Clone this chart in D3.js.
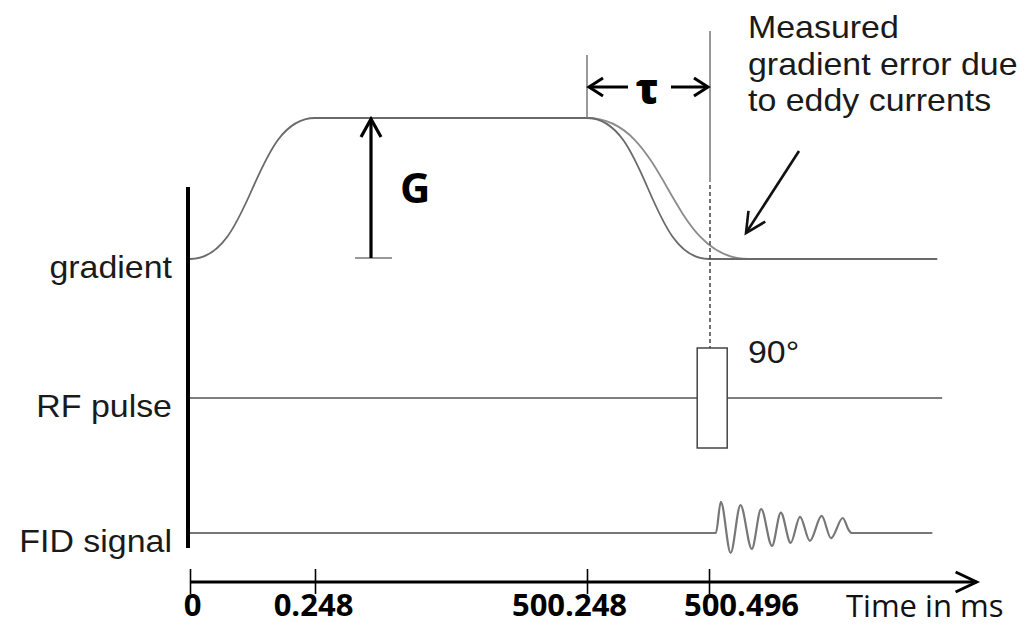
<!DOCTYPE html>
<html>
<head>
<meta charset="utf-8">
<script src="https://cdn.jsdelivr.net/npm/d3@7"></script>
<style>
  body { margin: 0; background: #fff; }
  svg { display: block; }
</style>
</head>
<body>
<div id="vis"></div>
<script>
// time axis (ms) - the axis is broken, so ticks are not evenly spaced
const timeTicks = [0, 0.248, 500.248, 500.496];
const tickLabels = ["0", "0.248", "500.248", "500.496"];
const rowLabels = ["gradient", "RF pulse", "FID signal"];

// ideal gradient waveform (G = 1)
const gradTime = [0, 0.248, 500.248, 500.496, 500.96];
const gradValue = [0, 1, 1, 0, 0];

// measured gradient, with eddy currents, on the ramp down
const eddyTime = [500.248, 500.576];
const eddyValue = [1, 0];

// 90 degree RF pulse
const rfTime = [500.472, 500.533];
const rfEnd = 500.97;

// FID signal, peaks and troughs
const fidTime = [0, 500.510, 500.520, 500.540, 500.560, 500.583, 500.602, 500.624, 500.642,
  500.662, 500.681, 500.701, 500.725, 500.744, 500.768, 500.779, 500.786, 500.95];
const fidValue = [0, 0, 1.04, -0.66, 0.93, -0.53, 0.8, -0.43, 0.68,
  -0.33, 0.54, -0.26, 0.57, -0.17, 0.5, 0.13, 0, 0];

const axisEnd = 501.04;

const W = 1032, H = 637;
const svg = d3.select('#vis').append('svg')
  .attr('width', W)
  .attr('height', H);

// piecewise scale, extrapolates past the last tick
const x = d3.scaleLinear().domain(timeTicks).range([190, 315, 587, 709]);
const yGrad = d3.scaleLinear().domain([0, 1]).range([259, 118]);
const yRF = d3.scaleLinear().domain([-1, 1]).range([448, 348]);
const yFID = d3.scaleLinear().domain([-1, 1]).range([563, 503]);

const sansFont = '"Liberation Sans", Arial, sans-serif';
const boldFont = '"Open Sans", sans-serif';

function arrow(g, x1, y1, x2, y2, head, half, width, color) {
  g.append('line')
    .attr('x1', x1).attr('y1', y1).attr('x2', x2).attr('y2', y2)
    .attr('stroke', color).attr('stroke-width', width);
  var a = Math.atan2(y2 - y1, x2 - x1);
  var bx = x2 - head * Math.cos(a), by = y2 - head * Math.sin(a);
  var px = -Math.sin(a) * half, py = Math.cos(a) * half;
  g.append('path')
    .attr('d', 'M' + (bx + px) + ',' + (by + py) + 'L' + x2 + ',' + y2 + 'L' + (bx - px) + ',' + (by - py))
    .attr('fill', 'none').attr('stroke', color)
    .attr('stroke-width', width).attr('stroke-linejoin', 'miter');
}

// arial-ish text, slightly stretched like the original
function label(g, str, tx, ty, anchor) {
  return g.append('text')
    .attr('transform', 'translate(' + tx + ',' + ty + ') scale(1.06,1)')
    .attr('text-anchor', anchor || 'start')
    .style('font-family', sansFont)
    .style('font-size', '32px')
    .attr('fill', '#1a1a1a')
    .text(str);
}

//________________________________________________
// row labels + vertical bar
//________________________________________________
var rowBase = [yGrad(0), yRF(0), yFID(0)];
var labelsG = svg.append('g');
rowLabels.forEach(function (d, i) {
  label(labelsG, d, 172, rowBase[i] + 19, 'end');
});

svg.append('line')
  .attr('x1', 188).attr('x2', 188)
  .attr('y1', 187).attr('y2', 548)
  .attr('stroke', '#000').attr('stroke-width', 4);

//________________________________________________
// gradient
//________________________________________________
var gradLine = d3.line()
  .x(function (d) { return x(d[0]); })
  .y(function (d) { return yGrad(d[1]); })
  .curve(d3.curveBumpX);

svg.append('path')
  .datum(d3.zip(eddyTime, eddyValue))
  .attr('d', gradLine)
  .attr('fill', 'none').attr('stroke', '#8c8c8c').attr('stroke-width', 1.8);

svg.append('path')
  .datum(d3.zip(gradTime, gradValue))
  .attr('d', gradLine)
  .attr('fill', 'none').attr('stroke', '#6a6a6a').attr('stroke-width', 1.8);

// G arrow
var gx = x(0.248) + 56;
svg.append('line')
  .attr('x1', gx - 16).attr('x2', gx + 21)
  .attr('y1', yGrad(0) - 1).attr('y2', yGrad(0) - 1)
  .attr('stroke', '#777').attr('stroke-width', 1.5);
arrow(svg, gx, yGrad(0) - 1, gx, yGrad(1) + 1, 18, 10, 3.2, '#000');
svg.append('text')
  .attr('x', gx + 29).attr('y', 203)
  .style('font-family', boldFont).style('font-weight', 700)
  .style('font-size', '42px')
  .text('G');

// tau
var t0 = x(500.248), t1 = x(500.496);
svg.append('line')
  .attr('x1', t0).attr('x2', t0).attr('y1', 55).attr('y2', yGrad(1))
  .attr('stroke', '#777').attr('stroke-width', 1.5);
svg.append('line')
  .attr('x1', t1 + 1).attr('x2', t1 + 1).attr('y1', 31).attr('y2', 182)
  .attr('stroke', '#777').attr('stroke-width', 1.5);
svg.append('line')
  .attr('x1', t1 + 1).attr('x2', t1 + 1).attr('y1', 185).attr('y2', yRF(1))
  .attr('stroke', '#444').attr('stroke-width', 1.5)
  .attr('stroke-dasharray', '4,3');
arrow(svg, t0 + 41, 87, t0 + 2, 87, 14, 9, 3, '#000');
arrow(svg, t1 - 38, 87, t1 - 1, 87, 14, 9, 3, '#000');
svg.append('text')
  .attr('x', (t0 + t1) / 2 - 1).attr('y', 104)
  .attr('text-anchor', 'middle')
  .style('font-family', boldFont).style('font-weight', 800)
  .style('font-size', '42px')
  .text('τ');

// eddy current note
var noteG = svg.append('g');
['Measured', 'gradient error due', 'to eddy currents'].forEach(function (d, i) {
  label(noteG, d, 748, 38 + i * 36.5);
});
arrow(svg, 799, 151, 746, 233, 20, 10, 2.6, '#111');

//________________________________________________
// RF pulse
//________________________________________________
svg.append('line')
  .attr('x1', x(0)).attr('x2', x(rfEnd))
  .attr('y1', yRF(0)).attr('y2', yRF(0))
  .attr('stroke', '#555').attr('stroke-width', 1.5);
svg.append('rect')
  .attr('x', x(rfTime[0])).attr('y', yRF(1))
  .attr('width', x(rfTime[1]) - x(rfTime[0]))
  .attr('height', yRF(-1) - yRF(1))
  .attr('fill', '#fff').attr('stroke', '#444').attr('stroke-width', 1.5);
label(svg, '90°', 748, 363);

//________________________________________________
// FID
//________________________________________________
svg.append('path')
  .datum(d3.zip(fidTime, fidValue))
  .attr('d', d3.line()
    .x(function (d) { return x(d[0]); })
    .y(function (d) { return yFID(d[1]); })
    .curve(d3.curveMonotoneX))
  .attr('fill', 'none').attr('stroke', '#777').attr('stroke-width', 2.2);

//________________________________________________
// time axis
//________________________________________________
var axisY = 582;
var axisG = svg.append('g')
  .attr('transform', 'translate(0,' + axisY + ')')
  .call(d3.axisBottom(x)
    .tickValues(timeTicks)
    .tickFormat(function (d, i) { return tickLabels[i]; })
    .tickSize(12));
axisG.select('.domain').remove();
axisG.selectAll('.tick line')
  .attr('y1', -13).attr('y2', 12)
  .attr('stroke', '#000').attr('stroke-width', 1.6);
var labelShift = [2, -2, -18, 32];
axisG.selectAll('.tick text')
  .attr('y', 34).attr('dy', null)
  .attr('dx', function (d, i) { return labelShift[i]; })
  .attr('fill', '#000')
  .style('font-family', boldFont).style('font-weight', 700)
  .style('font-size', '31px');

arrow(svg, x(0), axisY, x(axisEnd), axisY, 21, 10, 3, '#000');

svg.append('text')
  .attr('x', 846).attr('y', 617)
  .style('font-family', boldFont)
  .style('font-size', '31px')
  .attr('fill', '#111')
  .text('Time in ms');
</script>
</body>
</html>
